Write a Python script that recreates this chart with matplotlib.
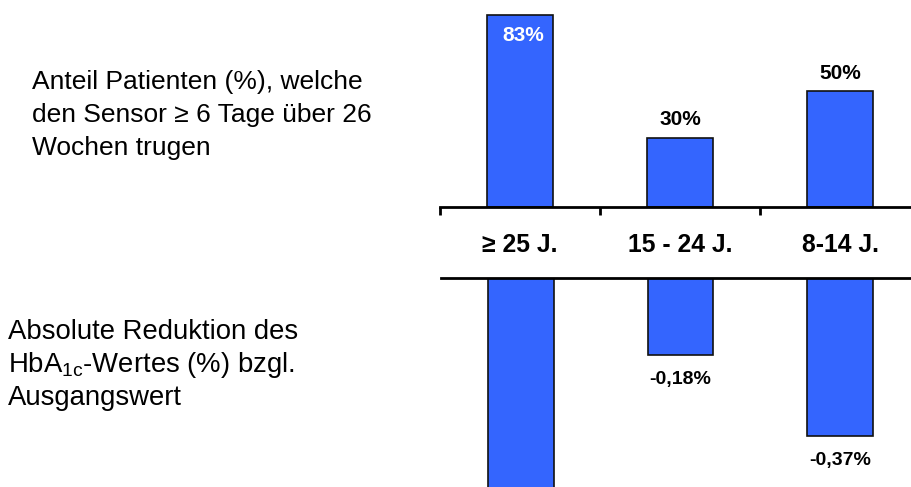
import matplotlib
matplotlib.use("Agg")
import matplotlib.pyplot as plt

plt.rcParams['font.family'] = ['Liberation Sans', 'DejaVu Sans']
plt.rcParams['mathtext.fontset'] = 'custom'
plt.rcParams['mathtext.rm'] = 'Liberation Sans'
plt.rcParams['mathtext.it'] = 'Liberation Sans'
plt.rcParams['mathtext.bf'] = 'Liberation Sans:bold'

# Data
categories = ["≥ 25 J.", "15 - 24 J.", "8-14 J."]
sensor_share = [83, 30, 50]                 # % of patients wearing the sensor >= 6 days
hba1c_change = [-0.50, -0.18, -0.37]        # absolute HbA1c change (%)
sensor_labels = ["83%", "30%", "50%"]
hba1c_labels = [None, "-0,18%", "-0,37%"]

W, H = 911, 487
fig = plt.figure(figsize=(W / 100, H / 100), dpi=100)
BLUE = "#3465FE"


def fig_rect(x0, y_top, x1, y_bot):
    return [x0 / W, 1 - y_bot / H, (x1 - x0) / W, (y_bot - y_top) / H]


xs = list(range(len(categories)))

# Upper panel: sensor wear share
ax1 = fig.add_axes(fig_rect(440, 0, 920, 207))
ax1.bar(xs, sensor_share, width=0.41, color=BLUE, edgecolor="#111111", linewidth=1.2, zorder=2)
ax1.set_xlim(-0.5, 2.5)
ax1.set_ylim(0, 207 / 2.313)
for s in ("top", "right", "left"):
    ax1.spines[s].set_visible(False)
ax1.spines["bottom"].set_linewidth(2)
ax1.set_yticks([])
ax1.set_xticks([-0.5, 0.5, 1.5, 2.5])
ax1.set_xticklabels([])
ax1.tick_params(axis="x", direction="out", length=6, width=2)
for i, (v, lab) in enumerate(zip(sensor_share, sensor_labels)):
    if i == 0:
        ax1.annotate(lab, (i, v), xytext=(2, -15), textcoords="offset points",
                     ha="center", va="center", fontsize=15, fontweight="bold", color="white")
    else:
        ax1.annotate(lab, (i, v), xytext=(0, 13), textcoords="offset points",
                     ha="center", va="center", fontsize=15, fontweight="bold", color="black")

# Category labels between the panels
for i, c in enumerate(categories):
    fig.text((520 + 160 * i) / W, 1 - 245 / H, c, ha="center", va="center",
             fontsize=17.8, fontweight="bold")

# Lower panel: HbA1c reduction
ax2 = fig.add_axes(fig_rect(441, 278, 920, 487))
ax2.bar(xs, hba1c_change, width=0.41, color=BLUE, edgecolor="#111111", linewidth=1.2, zorder=2)
ax2.set_xlim(-0.5, 2.5)
ax2.set_ylim(-209 / 428, 0)
for s in ("bottom", "right", "left"):
    ax2.spines[s].set_visible(False)
ax2.spines["top"].set_linewidth(2)
ax2.set_xticks([])
ax2.set_yticks([])
for i, (v, lab) in enumerate(zip(hba1c_change, hba1c_labels)):
    if lab:
        ax2.annotate(lab, (i, v), xytext=(0, -17.5), textcoords="offset points",
                     ha="center", va="center", fontsize=14, fontweight="bold", color="black")

# Panel descriptions
fig.text(32 / W, 1 - 115 / H,
         "Anteil Patienten (%), welche\nden Sensor ≥ 6 Tage über 26\nWochen trugen",
         ha="left", va="center", fontsize=19, linespacing=1.5)
fig.text(8 / W, 1 - 365 / H,
         "Absolute Reduktion des\nHbA$_{\\mathrm{1c}}$-Wertes (%) bzgl.\nAusgangswert",
         ha="left", va="center", fontsize=19.8, linespacing=1.26)

fig.savefig("out.png", dpi=100)
